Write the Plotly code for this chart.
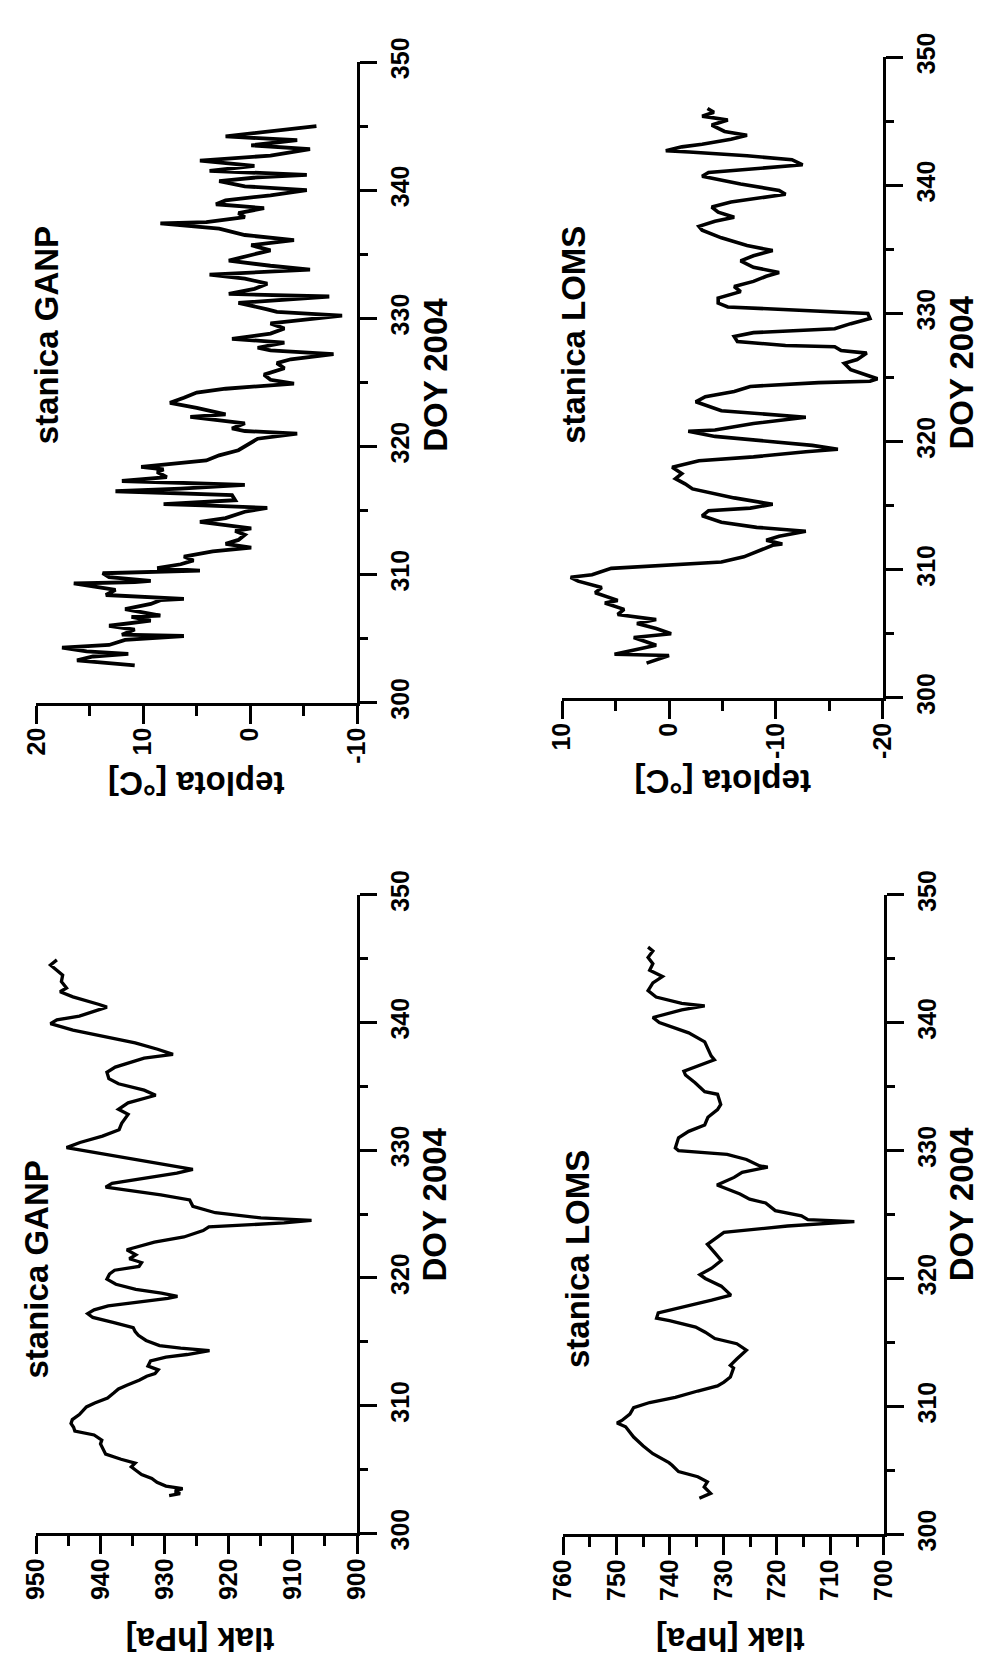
import plotly.graph_objects as go

# ---------------- data ----------------
# Pressure GANP [hPa] vs DOY 2004
doy_p_ganp = [302.95, 303.1, 303.3, 303.5, 303.7, 304.0, 304.3, 304.6, 304.9, 305.2, 305.5, 305.8,
              306.2, 306.6, 307.0, 307.3, 307.7, 308.0, 308.3, 308.6, 308.9, 309.3, 309.6, 309.9,
              310.2, 310.6, 311.0, 311.3, 311.6, 312.0, 312.3, 312.5, 312.8, 313.1, 313.5, 313.8,
              314.0, 314.3, 314.5, 314.7, 315.1, 315.5, 315.8, 316.1, 316.5, 316.9, 317.2, 317.5,
              317.8, 318.1, 318.4, 318.55, 318.8, 319.1, 319.5, 319.9, 320.3, 320.6, 320.9, 321.2,
              321.5, 321.8, 322.2, 322.8, 323.2, 323.7, 324.0, 324.3, 324.5, 324.7, 325.1, 325.6,
              326.1, 326.5, 326.9, 327.1, 327.4, 327.8, 328.2, 328.5, 328.8, 329.4, 329.8, 330.2,
              330.6, 331.1, 331.6, 332.1, 332.8, 333.2, 333.7, 334.2, 334.3, 334.7, 335.2, 335.6,
              336.1, 336.5, 337.2, 337.5, 337.9, 338.4, 338.9, 339.4, 339.9, 340.2, 340.5, 341.2,
              341.4, 342.0, 342.4, 342.7, 343.2, 343.7, 344.2, 344.5, 344.9]
p_ganp = [929.3, 927.6, 928.4, 927.2, 929.8, 931.2, 932.0, 933.6, 934.4, 935.2, 934.6, 936.8,
          939.2, 939.6, 940.0, 939.8, 941.0, 944.0, 944.2, 944.6, 944.4, 943.3, 942.8, 942.2,
          940.9, 938.9, 937.9, 937.2, 935.9, 933.9, 932.8, 931.5, 931.0, 932.6, 932.2, 929.8,
          926.5, 923.0, 927.5, 930.8, 932.9, 934.1, 934.6, 934.9, 937.9, 941.2, 942.0, 941.0,
          938.8, 934.0, 929.5, 928.0, 930.5, 934.5, 937.6, 939.0, 938.6, 937.8, 934.0, 933.6,
          935.5, 934.5, 935.9, 931.6, 927.0, 924.0, 923.1, 911.4, 907.1, 915.0, 922.1, 925.6,
          926.1, 930.6, 936.7, 939.2, 938.2, 933.2, 928.1, 925.6, 929.1, 935.7, 940.7, 945.3,
          943.2, 939.7, 937.1, 936.7, 935.7, 937.2, 935.7, 932.1, 931.4, 933.2, 937.2, 938.7,
          939.0, 937.7, 933.2, 928.7, 931.1, 934.6, 939.2, 944.3, 947.8, 946.8, 943.3, 939.0,
          940.2, 944.3, 946.3, 945.3, 946.1, 945.9, 947.1, 947.8, 946.8]

# Pressure LOMS [hPa] vs DOY 2004
doy_p_loms = [302.82, 303.2, 303.7, 304.1, 304.5, 304.9, 305.4, 305.6, 306.3, 306.9, 307.6, 308.4,
              308.7, 308.9, 309.4, 309.9, 310.3, 310.7, 311.2, 311.6, 311.9, 312.3, 313.0, 313.2,
              313.7, 314.4, 314.9, 315.3, 315.8, 316.2, 316.7, 316.9, 317.3, 317.8, 318.3, 318.7,
              319.4, 320.0, 320.3, 320.8, 321.4, 322.0, 322.67, 323.6, 323.8, 324.1, 324.45, 324.6,
              324.9, 325.3, 325.9, 326.2, 326.6, 327.2, 327.3, 327.9, 328.3, 328.7, 328.8, 329.3,
              329.7, 330.0, 330.2, 331.0, 331.5, 332.0, 332.6, 333.2, 333.6, 334.4, 334.6, 335.3,
              335.9, 336.2, 336.7, 337.1, 337.4, 338.5, 339.2, 340.0, 340.4, 340.6, 341.0, 341.3,
              341.5, 342.0, 342.5, 343.1, 343.6, 344.1, 344.6, 345.1, 345.6, 345.9]
p_loms = [734.5, 732.4, 733.6, 733.0, 734.8, 738.4, 739.6, 740.2, 743.2, 745.0, 746.8, 748.3,
          749.9, 749.0, 747.5, 746.8, 743.8, 739.0, 734.8, 731.1, 729.9, 728.7, 728.1, 728.7,
          727.5, 725.7, 727.5, 731.6, 733.4, 735.2, 740.1, 742.5, 742.2, 737.0, 732.2, 728.6,
          730.4, 733.4, 734.4, 732.2, 730.4, 731.6, 733.0, 729.9, 724.5, 718.0, 705.5, 714.2,
          715.4, 720.3, 722.1, 725.1, 726.9, 730.6, 731.2, 728.0, 726.5, 721.7, 723.2, 725.7,
          729.3, 738.4, 739.0, 738.4, 736.5, 733.5, 732.9, 731.1, 730.5, 731.1, 733.5, 735.3,
          737.1, 737.4, 734.1, 731.7, 732.3, 733.5, 736.5, 742.0, 743.2, 741.4, 737.8, 733.5,
          737.8, 742.6, 744.1, 743.2, 741.4, 743.8, 743.2, 744.1, 743.2, 744.1]

# Temperature GANP [deg C] vs DOY 2004
doy_t_ganp = [302.9, 303.0, 303.3, 303.6, 303.8, 304.0, 304.3, 304.5, 304.9, 305.2, 305.3, 305.7,
              306.0, 306.4, 306.7, 306.8, 307.3, 307.7, 308.0, 308.1, 308.4, 308.8, 309.3, 309.4,
              309.5, 309.8, 310.1, 310.3, 310.5, 310.8, 311.1, 311.4, 311.8, 312.1, 312.4, 312.7,
              313.1, 313.4, 313.6, 314.1, 314.4, 314.9, 315.2, 315.4, 315.5, 315.8, 316.2, 316.5,
              316.7, 317.0, 317.3, 317.6, 318.0, 318.2, 318.4, 318.9, 319.3, 319.7, 320.3, 320.6,
              321.0, 321.2, 321.4, 321.8, 322.3, 322.5, 323.0, 323.4, 323.8, 324.2, 324.5, 324.9,
              325.2, 325.6, 326.1, 326.5, 326.8, 327.2, 327.5, 327.7, 328.1, 328.4, 328.8, 329.2,
              329.6, 330.2, 330.5, 330.7, 331.2, 331.4, 331.7, 331.9, 332.3, 332.7, 333.1, 333.4,
              333.8, 334.1, 334.5, 335.0, 335.3, 335.7, 336.1, 336.5, 337.0, 337.4, 337.5, 337.9,
              338.2, 338.6, 338.9, 339.2, 339.6, 340.0, 340.3, 340.7, 341.0, 341.2, 341.5, 341.9,
              342.3, 342.7, 343.2, 343.5, 343.9, 344.2, 344.6, 345.0]
t_ganp = [10.8, 12.0, 16.2, 14.7, 11.4, 15.3, 17.6, 13.2, 11.7, 6.2, 12.0, 10.8,
          13.2, 9.3, 11.1, 8.4, 11.7, 9.3, 8.4, 6.2, 13.5, 12.6, 16.5, 10.8,
          9.3, 13.2, 13.8, 4.7, 8.7, 6.5, 5.3, 6.2, 3.5, -0.1, 2.3, 1.1,
          0.5, 1.4, -0.1, 4.7, 2.3, 0.5, -1.6, 4.4, 8.1, 1.4, 1.7, 12.6,
          6.5, 0.5, 12.0, 7.8, 8.7, 8.1, 10.2, 4.1, 2.9, 1.1, -0.1, -0.7,
          -4.4, 0.5, 1.7, 0.5, 5.6, 2.3, 5.0, 7.5, 6.2, 5.0, 2.3, -4.1,
          -1.9, -1.3, -3.2, -2.5, -3.8, -7.8, -1.9, -0.7, -3.2, 1.7, -1.9, -3.2,
          -1.9, -8.6, -2.5, -1.6, 1.1, -2.5, -7.4, 2.0, -0.4, -1.6, 0.5, 3.8,
          -5.6, -1.9, 2.0, -0.4, -1.9, -0.1, -4.1, 0.5, 2.9, 8.4, 4.1, 0.5,
          1.1, -1.3, 3.2, 2.3, -1.9, -5.3, 0.5, 2.9, -0.7, -5.3, 3.8, -0.4,
          4.7, -1.9, -5.6, -0.1, -4.4, 2.3, -1.6, -6.2]

# Temperature LOMS [deg C] vs DOY 2004
doy_t_loms = [302.7, 303.3, 303.4, 303.8, 304.1, 304.7, 305.0, 305.4, 305.8, 306.1, 306.5, 306.9,
              307.4, 307.6, 308.2, 308.6, 309.1, 309.4, 309.6, 310.1, 310.3, 310.6, 311.0, 311.6,
              311.9, 312.0, 312.3, 312.6, 313.0, 313.3, 313.7, 314.2, 314.6, 314.8, 315.1, 315.6,
              316.0, 316.3, 316.7, 317.1, 317.5, 318.0, 318.5, 318.8, 319.2, 319.4, 319.7, 320.1,
              320.4, 320.8, 320.9, 321.4, 321.9, 322.4, 323.1, 323.5, 323.9, 324.3, 324.6, 324.7,
              324.9, 325.1, 325.6, 326.1, 326.4, 326.9, 327.1, 327.4, 327.5, 327.8, 328.2, 328.5,
              328.8, 329.2, 329.6, 330.0, 330.3, 330.5, 330.8, 331.2, 331.7, 332.1, 332.5, 332.9,
              333.2, 333.6, 334.1, 334.5, 334.9, 335.3, 335.9, 336.5, 336.8, 337.2, 337.5, 337.9,
              338.3, 338.7, 339.3, 339.6, 340.1, 340.7, 341.0, 341.3, 341.6, 342.0, 342.3, 342.6,
              342.7, 343.0, 343.2, 343.6, 343.9, 344.2, 344.7, 345.1, 345.4, 345.7, 346.0]
t_loms = [2.1, 0.0, 5.1, 2.7, 1.2, 3.3, -0.2, 1.2, 3.0, 1.2, 4.8, 4.2,
          6.0, 4.8, 6.9, 6.3, 8.5, 9.2, 7.2, 5.4, 1.2, -4.9, -7.0, -8.8,
          -9.7, -10.6, -9.1, -10.3, -12.8, -8.2, -4.9, -3.1, -3.7, -7.6, -9.7, -6.1,
          -4.0, -2.2, -1.5, -0.6, -1.2, -0.3, -2.8, -7.9, -12.8, -15.8, -13.4, -7.9,
          -4.3, -1.8, -4.3, -7.9, -12.8, -4.9, -2.5, -3.4, -6.1, -7.6, -14.0, -18.8,
          -19.5, -18.8, -17.0, -16.4, -17.6, -18.5, -16.1, -15.5, -10.9, -6.4, -6.1, -7.9,
          -15.5, -17.0, -18.8, -18.6, -10.9, -5.5, -4.6, -4.6, -6.7, -6.1, -7.9, -9.1,
          -10.3, -7.9, -6.7, -7.9, -9.7, -7.3, -4.9, -3.1, -2.8, -4.3, -6.1, -4.6,
          -4.0, -5.8, -10.9, -10.3, -6.7, -3.1, -3.7, -8.5, -12.5, -11.5, -7.3, -1.9,
          0.3, -1.2, -3.1, -5.8, -7.3, -5.2, -4.0, -5.5, -3.1, -4.2, -3.6]

# axis ticks
doy_ticks = [300, 310, 320, 330, 340, 350]
t_ganp_ticks = [20, 10, 0, -10]
t_loms_ticks = [10, 0, -10, -20]
p_ganp_ticks = [950, 940, 930, 920, 910, 900]
p_loms_ticks = [760, 750, 740, 730, 720, 710, 700]

# ---------------- layout helpers ----------------
W, H = 992, 1680
FONT = "Liberation Sans, Arial, Helvetica, sans-serif"


def px(x):
    return x / W


def py(y):
    return 1 - y / H


# panel pixel boxes: (left, right, top, bottom), value range (left -> right)
panels = [
    dict(box=(22, 352, 38, 695), vrange=[20, -10], vticks=t_ganp_ticks, series=(t_ganp, doy_t_ganp), lw=3.8),
    dict(box=(563, 893, 33, 690), vrange=[10, -20], vticks=t_loms_ticks, series=(t_loms, doy_t_loms), lw=3.6),
    dict(box=(22, 352, 892, 1547), vrange=[950, 900], vticks=p_ganp_ticks, series=(p_ganp, doy_p_ganp), lw=3.3),
    dict(box=(564, 894, 892, 1548), vrange=[760, 700], vticks=p_loms_ticks, series=(p_loms, doy_p_loms), lw=3.3),
]

fig = go.Figure()
layout = dict(
    width=W, height=H, margin=dict(l=0, r=0, t=0, b=0),
    paper_bgcolor="white", plot_bgcolor="white", showlegend=False,
    font=dict(family=FONT, color="black"),
)

tickfont = dict(family=FONT, size=25, color="black", weight="bold")

for i, p in enumerate(panels, start=1):
    l, r, t, b = p["box"]
    xa = "x" if i == 1 else f"x{i}"
    ya = "y" if i == 1 else f"y{i}"
    vals, doys = p["series"]
    fig.add_trace(go.Scatter(x=vals, y=doys, mode="lines", xaxis=xa, yaxis=ya,
                             line=dict(color="black", width=p["lw"]), hoverinfo="skip"))
    layout["xaxis" if i == 1 else f"xaxis{i}"] = dict(
        domain=[px(l), px(r)], anchor=ya, range=p["vrange"],
        tickvals=p["vticks"], ticktext=[str(v) for v in p["vticks"]],
        showgrid=False, zeroline=False, showline=True, linecolor="black", linewidth=3,
        ticks="outside", ticklen=18, tickwidth=3, tickcolor="black",
        minor=dict(ticks="outside", ticklen=10, tickwidth=3, tickcolor="black", dtick=5, tick0=0),
        tickangle=-90, tickfont=tickfont, ticklabelstandoff=-6,
    )
    layout["yaxis" if i == 1 else f"yaxis{i}"] = dict(
        domain=[py(b), py(t)], anchor=xa, side="right", range=[300, 350],
        tickvals=doy_ticks, ticktext=[str(v) for v in doy_ticks],
        showgrid=False, zeroline=False, showline=True, linecolor="black", linewidth=3,
        ticks="outside", ticklen=17, tickwidth=3, tickcolor="black",
        minor=dict(ticks="outside", ticklen=8, tickwidth=3, tickcolor="black", dtick=5, tick0=0),
        tickangle=-90, tickfont=tickfont, ticklabelstandoff=2,
    )

fig.update_layout(**layout)

# ---------------- text labels ----------------
labfont = dict(family=FONT, size=33, color="black", weight="bold")
labels = [
    ("stanica GANP", 32, 318, -90),
    ("stanica LOMS", 574, 318, -90),
    ("stanica GANP", 22, 1276, -90),
    ("stanica LOMS", 579, 1266, -90),
    ("DOY 2004", 432, 359, -90),
    ("DOY 2004", 974, 357, -90),
    ("DOY 2004", 432, 1210, -90),
    ("DOY 2004", 974, 1210, -90),
    ("teplota [°C]", 187, 778, 180),
    ("teplota [°C]", 728, 776, 180),
    ("tlak [hPa]", 190, 1656, 180),
    ("tlak [hPa]", 736, 1656, 180),
]
for text, x, y, ang in labels:
    fig.add_annotation(text=text, x=px(x), y=py(y), xref="paper", yref="paper",
                       xanchor="center", yanchor="middle", showarrow=False,
                       textangle=ang, font=labfont)

fig.write_html("out.html")
